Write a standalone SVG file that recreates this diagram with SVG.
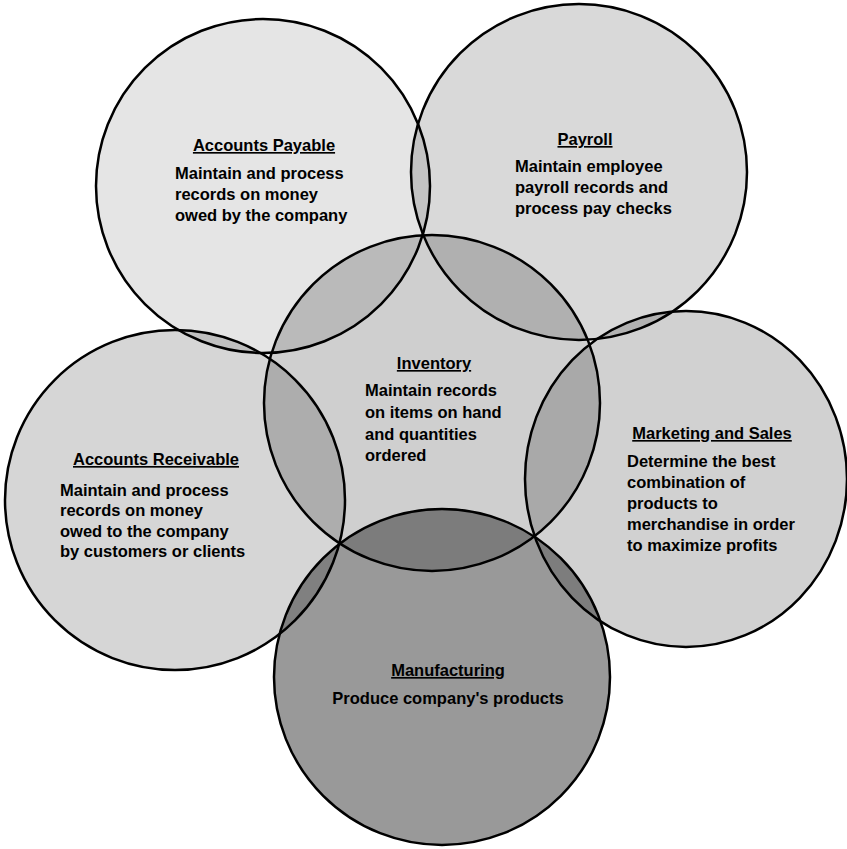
<svg xmlns="http://www.w3.org/2000/svg" width="847" height="849" viewBox="0 0 847 849">
<style>
  .c { fill: #000; stroke: #000; stroke-width: 2.5; }
  .t { font-family: "Liberation Sans", Arial, sans-serif; font-weight: bold; font-size: 16.5px; fill: #000; }
  .h { text-anchor: middle; text-decoration: underline; }
</style>
<rect width="847" height="849" fill="#fff"/>
<g id="accounts-payable">
  <circle class="c" cx="263" cy="186" r="167" fill-opacity="0.1"/>
  <text class="t h" x="264" y="151">Accounts Payable</text>
  <text class="t" x="175" y="179">Maintain and process</text>
  <text class="t" x="175" y="200">records on money</text>
  <text class="t" x="175" y="221">owed by the company</text>
</g>
<g id="payroll">
  <circle class="c" cx="579" cy="172" r="168" fill-opacity="0.15"/>
  <text class="t h" x="585" y="145">Payroll</text>
  <text class="t" x="515" y="172">Maintain employee</text>
  <text class="t" x="515" y="193">payroll records and</text>
  <text class="t" x="515" y="214">process pay checks</text>
</g>
<g id="accounts-receivable">
  <circle class="c" cx="175" cy="500" r="170" fill-opacity="0.16"/>
  <text class="t h" x="156" y="465">Accounts Receivable</text>
  <text class="t" x="60" y="496">Maintain and process</text>
  <text class="t" x="60" y="516">records on money</text>
  <text class="t" x="60" y="537">owed to the company</text>
  <text class="t" x="60" y="557">by customers or clients</text>
</g>
<g id="marketing-and-sales">
  <ellipse class="c" cx="686" cy="479" rx="161" ry="168" fill-opacity="0.18"/>
  <text class="t h" x="712" y="439">Marketing and Sales</text>
  <text class="t" x="627" y="467">Determine the best</text>
  <text class="t" x="627" y="488">combination of</text>
  <text class="t" x="627" y="509">products to</text>
  <text class="t" x="627" y="530">merchandise in order</text>
  <text class="t" x="627" y="551">to maximize profits</text>
</g>
<g id="inventory">
  <circle class="c" cx="432" cy="403" r="168" fill-opacity="0.19"/>
  <text class="t h" x="434" y="369">Inventory</text>
  <text class="t" x="365" y="396">Maintain records</text>
  <text class="t" x="365" y="418">on items on hand</text>
  <text class="t" x="365" y="440">and quantities</text>
  <text class="t" x="365" y="461">ordered</text>
</g>
<g id="manufacturing">
  <circle class="c" cx="442" cy="677" r="168" fill-opacity="0.4"/>
  <text class="t h" x="448" y="676">Manufacturing</text>
  <text class="t" x="448" y="704" text-anchor="middle">Produce company's products</text>
</g>
<g id="connectors"/>
</svg>
